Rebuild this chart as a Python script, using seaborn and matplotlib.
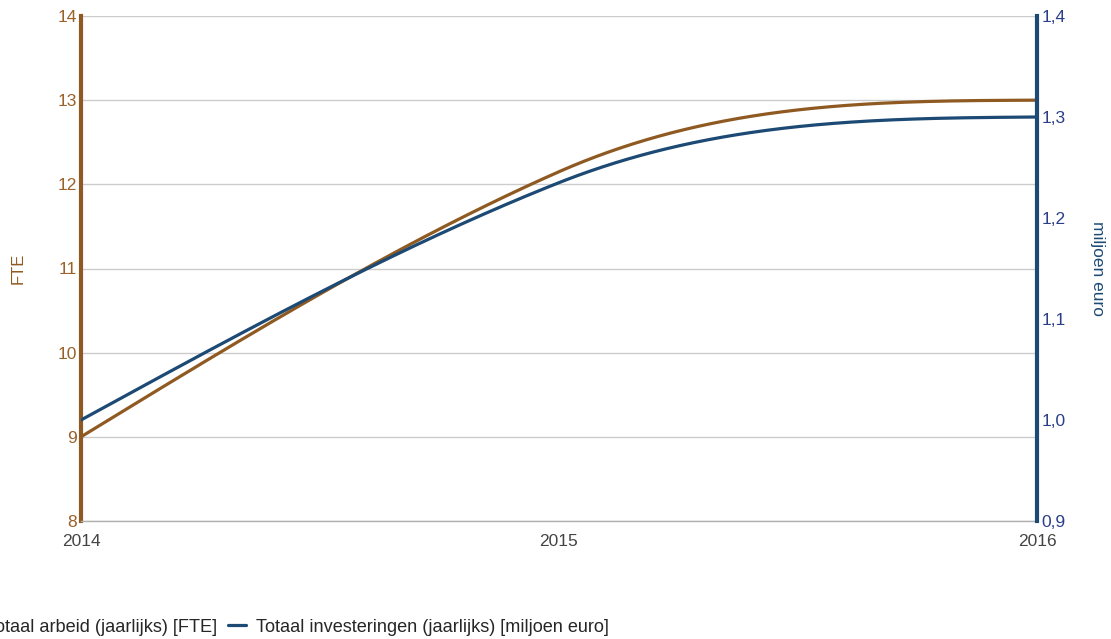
import numpy as np
import pandas as pd
import matplotlib
matplotlib.use("Agg")
import matplotlib.pyplot as plt
import seaborn as sns
from matplotlib.lines import Line2D

# ---- data ----
years = [2014, 2015, 2016]
fte = [9.0, 12.15, 13.0]           # Totaal arbeid (jaarlijks) [FTE]
euro = [1.0, 1.235, 1.3]           # Totaal investeringen (jaarlijks) [miljoen euro]
left_ticks = [8, 9, 10, 11, 12, 13, 14]
right_ticks = [0.9, 1.0, 1.1, 1.2, 1.3, 1.4]
right_tick_labels = ["0,9", "1,0", "1,1", "1,2", "1,3", "1,4"]
x_tick_labels = ["2014", "2015", "2016"]
series_names = ["Totaal arbeid (jaarlijks) [FTE]", "Totaal investeringen (jaarlijks) [miljoen euro]"]

BROWN = "#8f5a22"
BLUE = "#1c4a74"


def smooth(x, y, n=300, tension=1.25):
    """Cubic Hermite rendering of the data points (smooth 'function' curve)."""
    x = np.asarray(x, float)
    y = np.asarray(y, float)
    k = len(x)
    d = np.diff(y) / np.diff(x)
    m = np.zeros(k)
    for i in range(1, k - 1):
        m[i] = tension * (y[i + 1] - y[i - 1]) / (x[i + 1] - x[i - 1])
    m[0] = (3 * d[0] - m[1]) / 2
    m[-1] = (3 * d[-1] - m[-2]) / 2
    xs, ys = [], []
    for i in range(k - 1):
        h = x[i + 1] - x[i]
        t = np.linspace(0, 1, n)
        h00 = 2 * t**3 - 3 * t**2 + 1
        h10 = t**3 - 2 * t**2 + t
        h01 = -2 * t**3 + 3 * t**2
        h11 = t**3 - t**2
        xs.append(x[i] + t * h)
        ys.append(h00 * y[i] + h10 * h * m[i] + h01 * y[i + 1] + h11 * h * m[i + 1])
    return np.concatenate(xs), np.concatenate(ys)


sns.set_theme(style="white")
plt.rcParams["font.family"] = ["Liberation Sans", "DejaVu Sans"]

fig = plt.figure(figsize=(11.11, 6.39), dpi=100)
ax = fig.add_axes([81 / 1111, 1 - 521 / 639, (1037 - 81) / 1111, (521 - 16) / 639])
ax2 = ax.twinx()

xs, ys = smooth(years, fte)
sns.lineplot(x=xs, y=ys, ax=ax, color=BROWN, linewidth=2.3, sort=False)
xs2, ys2 = smooth(years, euro)
sns.lineplot(x=xs2, y=ys2, ax=ax2, color=BLUE, linewidth=2.3, sort=False)

ax.set_xlim(years[0], years[-1])
ax.set_ylim(left_ticks[0], left_ticks[-1])
ax2.set_ylim(right_ticks[0], right_ticks[-1])

ax.set_xticks(years)
ax.set_xticklabels(x_tick_labels)
ax.set_yticks(left_ticks)
ax.set_yticklabels([str(v) for v in left_ticks])
ax2.set_yticks(right_ticks)
ax2.set_yticklabels(right_tick_labels)

ax.grid(axis="y", color="#cccccc", linewidth=1.0)
ax.grid(axis="x", visible=False)
ax2.grid(False)

ax.tick_params(axis="x", length=0, pad=9, labelsize=12.5, labelcolor="#444444")
ax.tick_params(axis="y", length=0, pad=3, labelsize=12.5, labelcolor="#9a6128")
ax2.tick_params(axis="y", length=0, pad=3, labelsize=12.5, labelcolor="#2b3f88")

for s in ["top", "right"]:
    ax.spines[s].set_visible(False)
ax.spines["left"].set_color(BROWN)
ax.spines["left"].set_linewidth(3)
ax.spines["bottom"].set_color("#b0b0b0")
ax.spines["bottom"].set_linewidth(1)
for s in ["top", "left", "bottom"]:
    ax2.spines[s].set_visible(False)
ax2.spines["right"].set_color(BLUE)
ax2.spines["right"].set_linewidth(3)

ax.set_ylabel("FTE", color="#8f5a22", fontsize=12, rotation=90, va="center", ha="center")
ax.yaxis.set_label_coords((18 - 81) / 956, 0.5)
ax2.set_ylabel("miljoen euro", color=BLUE, fontsize=12.5, rotation=270, va="center", ha="center")
ax2.yaxis.set_label_coords((1097 - 81) / 956, 0.5)
ax.set_xlabel("")

ax.patch.set_alpha(0)
ax2.patch.set_alpha(0)
fig.patch.set_facecolor("white")

handles = [Line2D([0], [0], color=BROWN, linewidth=2.3),
           Line2D([0], [0], color=BLUE, linewidth=2.3)]
fig.legend(handles, series_names, loc="center left", bbox_to_anchor=(-42 / 1111, 1 - 627 / 639),
           ncol=2, frameon=False, fontsize=13.1, handlelength=1.0, handletextpad=0.55,
           columnspacing=0.6, borderpad=0, borderaxespad=0)

fig.savefig("out.png", dpi=100)
